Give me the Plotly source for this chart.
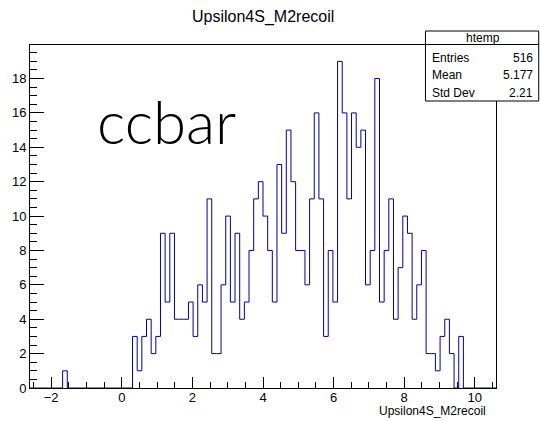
import plotly.graph_objects as go

# Histogram definition: 100 bins from -2.6 to 10.6
x_min = -2.6
x_max = 10.6
n_bins = 100

# Bin contents (bin index -> entries); unlisted bins are empty
counts = [0] * n_bins
counts[7] = 1
filled_from_22 = [
    3, 1, 3, 4, 2, 3, 9, 5, 9, 4, 4, 4, 5, 3, 6,          # bins 22-36
    5, 11, 2, 2, 6, 10, 5, 9, 4, 5, 8, 11, 12, 10, 8,     # bins 37-51
    5, 13, 9, 15, 12, 8, 8, 6, 11, 16, 11, 3, 8, 5, 19,   # bins 52-66
    16, 11, 16, 14, 15, 6, 8, 18, 5, 8, 11, 4, 7, 10, 9,  # bins 67-81
    4, 6, 8, 2, 2, 1, 3, 4, 2, 0, 3,                      # bins 82-92
]
for k, v in enumerate(filled_from_22):
    counts[22 + k] = v

stat_labels = ["Entries", "Mean", "Std Dev"]
stat_values = ["516", "5.177", "2.21"]

width = x_max - x_min
edges = [x_min + width * i / n_bins for i in range(n_bins + 1)]
step_y = counts + [counts[-1]]

y_max = max(counts) * 1.05

W, H = 540, 421
L, R, T, B = 27, 44, 45, 33
PW, PH = W - L - R, H - T - B


def px_x(px):
    return (px - L) / PW


def px_y(py):
    return (H - B - py) / PH


fig = go.Figure()
fig.add_trace(go.Scatter(
    x=edges, y=step_y, mode="lines", line_shape="hv",
    line=dict(color="#000099", width=1), showlegend=False,
    hoverinfo="skip",
))

axis_font = dict(family="Liberation Sans, Arial, sans-serif", size=13, color="black")

fig.update_layout(
    width=W, height=H,
    margin=dict(l=L, r=R, t=T, b=B, pad=0),
    paper_bgcolor="white", plot_bgcolor="white",
    xaxis=dict(
        range=[x_min, x_max], tick0=0, dtick=2,
        ticks="inside", ticklen=11, tickcolor="black", tickwidth=1,
        minor=dict(ticks="inside", ticklen=6, dtick=0.5, tickcolor="black", tickwidth=1),
        showline=True, linecolor="black", linewidth=1, mirror=True,
        showgrid=False, zeroline=False, tickfont=axis_font,
        ticklabelstandoff=-3,
    ),
    yaxis=dict(
        range=[0, y_max], tick0=0, dtick=2,
        ticks="inside", ticklen=14, tickcolor="black", tickwidth=1,
        minor=dict(ticks="inside", ticklen=7, dtick=0.5, tickcolor="black", tickwidth=1),
        showline=True, linecolor="black", linewidth=1, mirror=True,
        showgrid=False, zeroline=False, tickfont=axis_font,
    ),
)

txt_font = dict(family="Liberation Sans, Arial, sans-serif", color="black")

annotations = [
    # histogram title
    dict(text="Upsilon4S_M2recoil", x=px_x(261), y=px_y(17), xref="paper", yref="paper",
         xanchor="center", yanchor="middle", showarrow=False, font=dict(size=16, **txt_font)),
    # x axis title
    dict(text="Upsilon4S_M2recoil", x=px_x(488), y=px_y(411), xref="paper", yref="paper",
         xanchor="right", yanchor="middle", showarrow=False, font=dict(size=12, **txt_font)),
    # sample label
    dict(text="ccbar", x=px_x(92), y=px_y(121), xref="paper", yref="paper",
         xanchor="left", yanchor="middle", showarrow=False,
         font=dict(family="Lato, sans-serif", size=60, color="black", weight=300)),
    # stats box header
    dict(text="htemp", x=px_x(483), y=px_y(38), xref="paper", yref="paper",
         xanchor="center", yanchor="middle", showarrow=False, font=dict(size=12, **txt_font)),
]
row_y = [57.5, 75, 93]
for lab, val, ry in zip(stat_labels, stat_values, row_y):
    annotations.append(dict(text=lab, x=px_x(430), y=px_y(ry), xref="paper", yref="paper",
                            xanchor="left", yanchor="middle", showarrow=False,
                            font=dict(size=12, **txt_font)))
    annotations.append(dict(text=val, x=px_x(535), y=px_y(ry), xref="paper", yref="paper",
                            xanchor="right", yanchor="middle", showarrow=False,
                            font=dict(size=12, **txt_font)))

shapes = [
    dict(type="rect", xref="paper", yref="paper", x0=px_x(425), x1=px_x(539),
         y0=px_y(101), y1=px_y(31), line=dict(color="black", width=1),
         fillcolor="white", layer="above"),
    dict(type="line", xref="paper", yref="paper", x0=px_x(425), x1=px_x(539),
         y0=px_y(44.5), y1=px_y(44.5), line=dict(color="black", width=1), layer="above"),
]

fig.update_layout(annotations=annotations, shapes=shapes)
fig.write_html("out.html")
